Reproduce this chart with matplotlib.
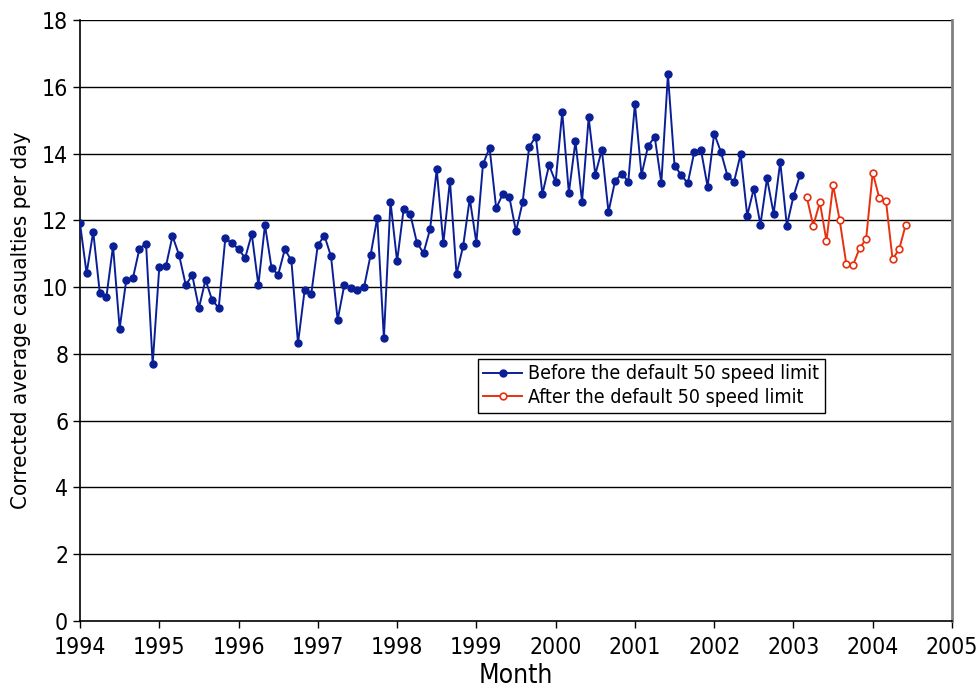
import matplotlib
matplotlib.use("Agg")
import matplotlib.pyplot as plt
import numpy as np

plt.rcParams['font.family'] = ['DejaVu Sans']
plt.rcParams['font.stretch'] = 'condensed'

start_year = 1994
before_values = [
    11.91, 10.41, 11.66, 9.82, 9.71, 11.23, 8.76, 10.21, 10.26, 11.15, 11.30, 7.69,
    10.59, 10.62, 11.53, 10.96, 10.07, 10.35, 9.37, 10.22, 9.61, 9.38, 11.47, 11.31,
    11.14, 10.87, 11.59, 10.06, 11.86, 10.57, 10.37, 11.13, 10.80, 8.32, 9.90, 9.79,
    11.26, 11.54, 10.92, 9.02, 10.05, 9.97, 9.92, 10.00, 10.97, 12.08, 8.47, 12.56,
    10.77, 12.35, 12.18, 11.33, 11.02, 11.74, 13.53, 11.31, 13.19, 10.39, 11.23, 12.65,
    11.33, 13.68, 14.17, 12.36, 12.79, 12.69, 11.67, 12.54, 14.20, 14.51, 12.79, 13.65,
    13.15, 15.24, 12.82, 14.37, 12.56, 15.08, 13.37, 14.11, 12.25, 13.18, 13.40, 13.16,
    15.49, 13.36, 14.23, 14.50, 13.12, 16.37, 13.64, 13.36, 13.11, 14.06, 14.11, 13.01,
    14.60, 14.06, 13.34, 13.15, 13.98, 12.14, 12.95, 11.87, 13.26, 12.20, 13.75, 11.84,
    12.72, 13.36,
]
after_values = [
    12.71, 11.84, 12.54, 11.38, 13.06, 12.00, 10.69, 10.65, 11.16, 11.44,
    13.43, 12.66, 12.59, 10.84, 11.13, 11.87,
]
year_ticks = list(range(1994, 2006))
y_ticks = list(range(0, 19, 2))

x_before = start_year + np.arange(len(before_values)) / 12.0
x_after = start_year + (len(before_values) + np.arange(len(after_values))) / 12.0

fig = plt.figure(figsize=(9.8, 6.93), dpi=100)
ax = fig.add_axes([80/980, 72/693, 872/980, 601/693])

for y in y_ticks[1:]:
    ax.axhline(y, color='black', lw=1.0, zorder=1)

blue = '#0A1F96'
red = '#E8300F'
ax.plot(x_before, before_values, color=blue, lw=1.4, marker='o', ms=5,
        mfc=blue, mec=blue, label='Before the default 50 speed limit', zorder=3)
ax.plot(x_after, after_values, color=red, lw=1.4, marker='o', ms=4.8,
        mfc='white', mec=red, mew=1.2, label='After the default 50 speed limit', zorder=3)

ax.set_xlim(1994, 2005)
ax.set_ylim(0, 18)
ax.set_xticks(year_ticks)
ax.set_xticklabels([str(y) for y in year_ticks])
ax.set_yticks(y_ticks)
ax.tick_params(axis='both', direction='out', length=5, width=1, labelsize=16.5, colors='black')
ax.tick_params(axis='x', pad=6)

ax.spines['top'].set_visible(False)
ax.spines['right'].set_color('#808080')
ax.spines['right'].set_linewidth(2)
ax.spines['left'].set_linewidth(1.2)
ax.spines['bottom'].set_linewidth(1.2)

ax.set_xlabel('Month', fontsize=19, labelpad=3)
ax.set_ylabel('Corrected average casualties per day', fontsize=16, labelpad=8)

leg = ax.legend(loc='lower left', bbox_to_anchor=(0.456, 0.346), fontsize=14,
                frameon=True, fancybox=False, edgecolor='black', framealpha=1,
                borderpad=0.3, labelspacing=0.25, handlelength=2.0, handletextpad=0.3,
                borderaxespad=0)
leg.get_frame().set_linewidth(1.0)

fig.savefig('out.png', dpi=100)
